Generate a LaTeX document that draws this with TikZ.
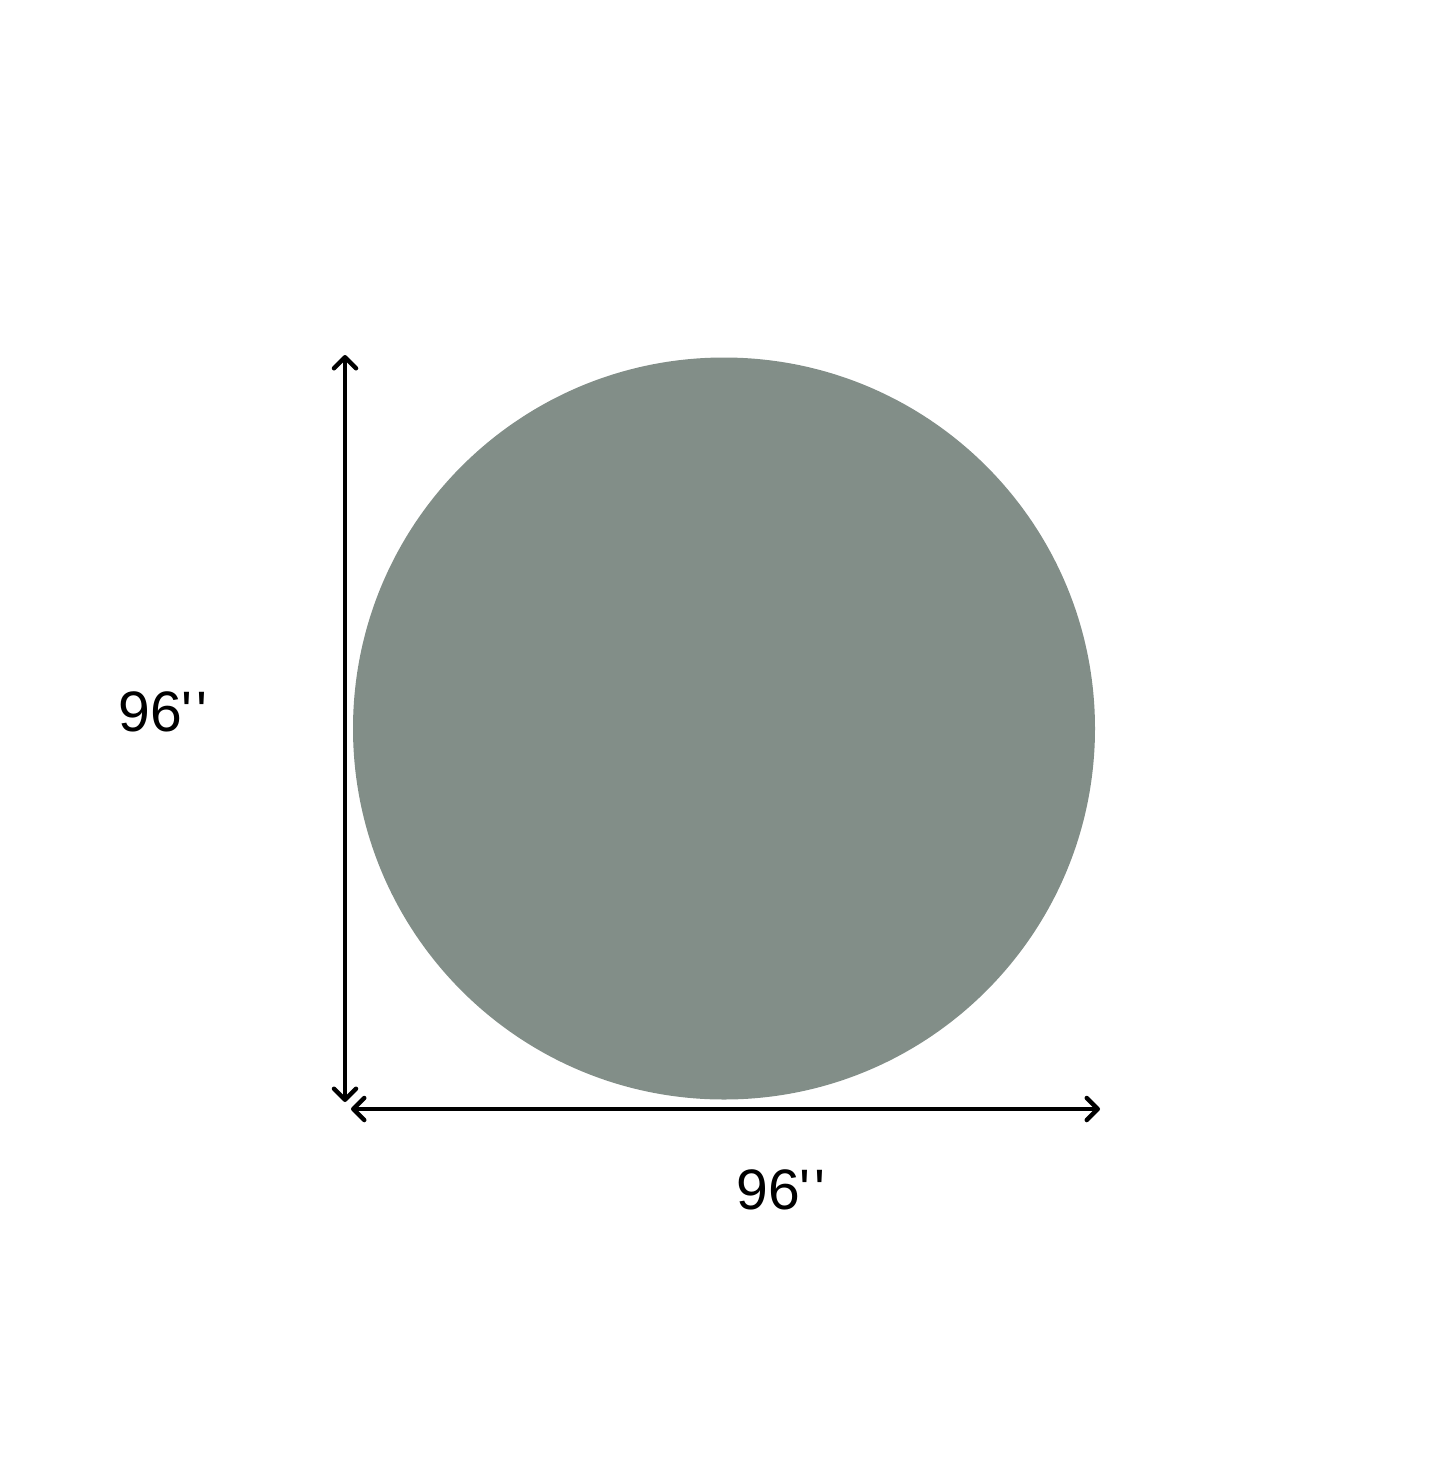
\documentclass[tikz,border=0pt]{standalone}
\usepackage{fontspec}
\newfontfamily\dimfont{Liberation Sans}
\usetikzlibrary{arrows.meta}
\definecolor{rugsage}{RGB}{130,142,136}
\newcommand{\inchmark}{\symbol{"27}\kern4pt\symbol{"27}}

\begin{document}
\begin{tikzpicture}[x=1pt,y=-1pt]
            \useasboundingbox (0,0) rectangle (1445,1457);
            % the rug
            \fill[rugsage] (724,728.5) circle (371);

            \coordinate (VT) at (345, 355);
            \coordinate (VB) at (345, 1102);
            \coordinate (HL) at (351, 1109);
            \coordinate (HR) at (1100, 1109);

            \begin{scope}[every node/.style={font=\dimfont\fontsize{57}{60}\selectfont, text=black}]
                \node (HeightLbl) at (163, 712) {96\inchmark};
                \node (WidthLbl) at (781, 1190) {96\inchmark};
            \end{scope}

            \begin{scope}[line width=4.5pt, line cap=round,
                          >={Straight Barb[length=11pt,width=22pt,line cap=round,round]}]
                \draw [<->] (VT) -- (VB);
                \draw [<->] (HL) -- (HR);
            \end{scope}
\end{tikzpicture}
\end{document}
